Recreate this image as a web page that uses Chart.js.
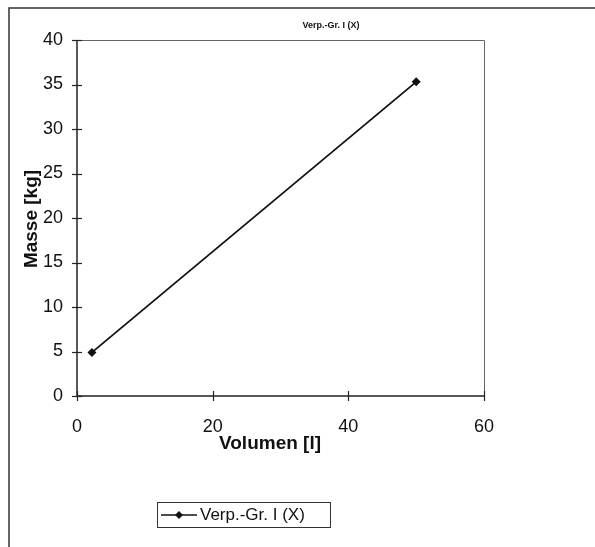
<!DOCTYPE html>
<html><head><meta charset="utf-8">
<script src="https://cdn.jsdelivr.net/npm/chart.js@4/dist/chart.umd.min.js"></script>
<style>
html,body{margin:0;padding:0;background:#fff;}
#wrap{position:relative;width:595px;height:547px;}
#legend{position:absolute;left:157px;top:502px;width:174px;height:26px;border:1px solid #333;box-sizing:border-box;font:17px "Liberation Sans",Arial,sans-serif;color:#111;display:flex;align-items:center;white-space:nowrap;}
#legend svg{margin-left:3px;margin-right:3px;}
</style>
</head><body>
<div id="wrap">
<canvas id="c" width="595" height="547"></canvas>
<div id="legend"><svg width="36" height="12"><line x1="0" y1="6" x2="36" y2="6" stroke="#111" stroke-width="1.5"/><polygon points="18,2 22,6 18,10 14,6" fill="#111"/></svg><span id="legtext"></span></div>
</div>
<script>
const seriesName = "Verp.-Gr. I (X)";
const chartTitle = "Verp.-Gr. I (X)";
const xTitle = "Volumen [l]";
const yTitle = "Masse [kg]";
const volumen = [2.2, 50];
const masse = [4.9, 35.3];
const xTicks = [0, 20, 40, 60];
const yTicks = [0, 5, 10, 15, 20, 25, 30, 35, 40];

document.getElementById('legtext').textContent = seriesName;

const points = volumen.map((v, i) => ({x: v, y: masse[i]}));

const deco = {
  id: 'deco',
  afterDraw(chart) {
    const ctx = chart.ctx;
    const a = chart.chartArea;
    const xs = chart.scales.x, ys = chart.scales.y;
    ctx.save();
    ctx.strokeStyle = '#333'; ctx.lineWidth = 1.5;
    ctx.beginPath(); ctx.moveTo(9, 547); ctx.lineTo(9, 8); ctx.lineTo(595, 8); ctx.stroke();
    ctx.strokeStyle = '#666'; ctx.lineWidth = 1;
    ctx.beginPath(); ctx.moveTo(a.left, a.top + 0.5); ctx.lineTo(a.right + 0.5, a.top + 0.5); ctx.lineTo(a.right + 0.5, a.bottom); ctx.stroke();
    ctx.strokeStyle = '#222'; ctx.lineWidth = 1.5;
    ctx.beginPath(); ctx.moveTo(a.left, a.top); ctx.lineTo(a.left, a.bottom); ctx.lineTo(a.right, a.bottom); ctx.stroke();
    ctx.lineWidth = 1.2;
    yTicks.forEach(v => { const y = Math.round(ys.getPixelForValue(v)) + 0.5; ctx.beginPath(); ctx.moveTo(a.left - 5, y); ctx.lineTo(a.left + 5, y); ctx.stroke(); });
    xTicks.forEach(v => { const x = Math.round(xs.getPixelForValue(v)) + 0.5; ctx.beginPath(); ctx.moveTo(x, a.bottom - 5); ctx.lineTo(x, a.bottom + 5); ctx.stroke(); });
    ctx.fillStyle = '#111';
    ctx.textAlign = 'center'; ctx.textBaseline = 'middle';
    ctx.font = 'bold 9px "Liberation Sans", Arial, sans-serif';
    ctx.fillText(chartTitle, 331, 26);
    ctx.font = 'bold 19px "Liberation Sans", Arial, sans-serif';
    ctx.fillText(xTitle, 270, 444);
    ctx.translate(32, 219); ctx.rotate(-Math.PI / 2);
    ctx.fillText(yTitle, 0, 0);
    ctx.restore();
  }
};

new Chart(document.getElementById('c'), {
  type: 'scatter',
  data: { datasets: [{
    label: seriesName,
    data: points,
    showLine: true,
    borderColor: '#111',
    backgroundColor: '#111',
    borderWidth: 1.8,
    pointStyle: 'rectRot',
    pointRadius: 4.5,
    pointBorderWidth: 0
  }]},
  options: {
    responsive: false,
    animation: false,
    layout: { padding: { top: 40, right: 111, left: 0, bottom: 0 } },
    plugins: { legend: { display: false }, title: { display: false }, tooltip: { enabled: false } },
    scales: {
      x: {
        type: 'linear', min: 0, max: 60,
        afterBuildTicks: s => { s.ticks = xTicks.map(v => ({value: v})); },
        afterFit: s => { s.height = 151; },
        grid: { drawOnChartArea: false, drawTicks: false },
        border: { display: false },
        ticks: { padding: 20, color: '#111', font: { family: '"Liberation Sans", Arial, sans-serif', size: 18 } }
      },
      y: {
        type: 'linear', min: 0, max: 40,
        afterBuildTicks: s => { s.ticks = yTicks.map(v => ({value: v})); },
        afterFit: s => { s.width = 77; },
        grid: { drawOnChartArea: false, drawTicks: false },
        border: { display: false },
        ticks: { padding: 14, color: '#111', font: { family: '"Liberation Sans", Arial, sans-serif', size: 18 } }
      }
    }
  },
  plugins: [deco]
});
</script>
</body></html>
